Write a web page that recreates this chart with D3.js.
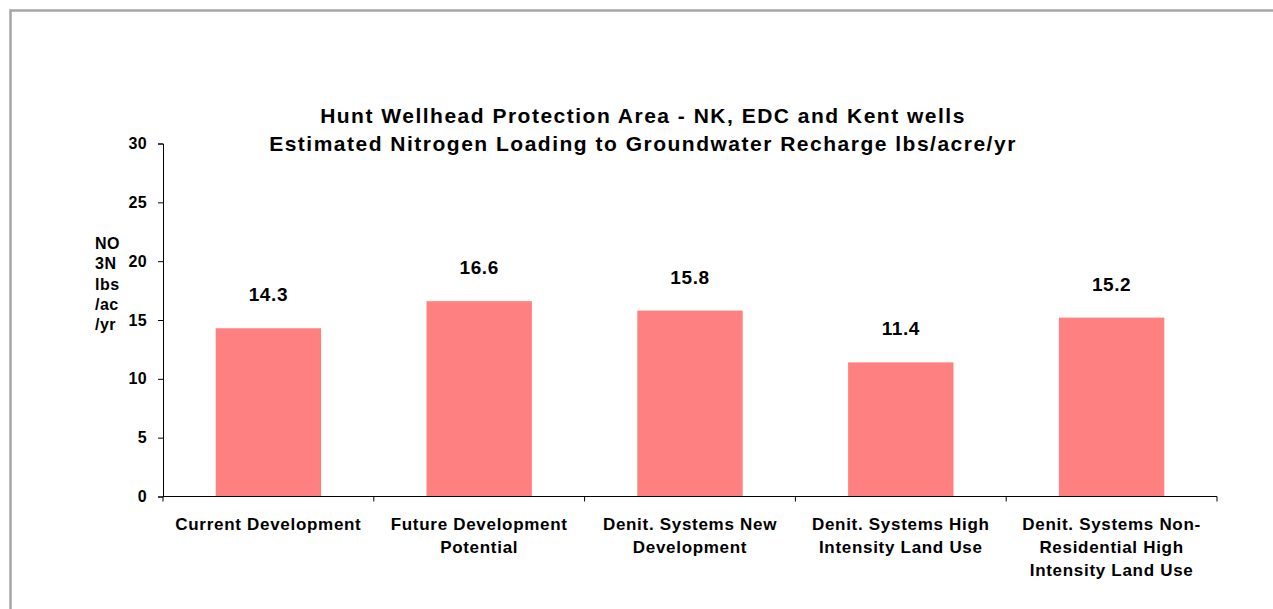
<!DOCTYPE html>
<html>
<head>
<meta charset="utf-8">
<script src="https://cdn.jsdelivr.net/npm/d3@7"></script>
<style>
  body { margin: 0; background: #fff; }
  svg { display: block; font-family: "Liberation Sans", Arial, sans-serif; }
</style>
</head>
<body>
<div id="chart"></div>
<script>
var width = 1273;
var height = 609;

var categories = [
  ["Current Development"],
  ["Future Development", "Potential"],
  ["Denit. Systems New", "Development"],
  ["Denit. Systems High", "Intensity Land Use"],
  ["Denit. Systems Non-", "Residential High", "Intensity Land Use"]
];
var values = [14.3, 16.6, 15.8, 11.4, 15.2];
var yTicks = [0, 5, 10, 15, 20, 25, 30];
var titleLines = [
  "Hunt Wellhead Protection Area - NK, EDC and Kent wells",
  "Estimated Nitrogen Loading to Groundwater Recharge lbs/acre/yr"
];
var yTitleLines = ["NO", "3N", "lbs", "/ac", "/yr"];

var plot = { left: 163, right: 1217, top: 143.5, bottom: 496.5 };

var svg = d3.select("#chart")
  .append("svg")
  .attr("width", width)
  .attr("height", height);

// outer frame
svg.append("rect")
  .attr("x", 10.5)
  .attr("y", 10.5)
  .attr("width", width + 20)
  .attr("height", height + 20)
  .attr("fill", "#fff")
  .attr("stroke", "#a6a6a6")
  .attr("stroke-width", 2.5);

var x = d3.scaleBand()
  .domain(d3.range(categories.length))
  .range([plot.left, plot.right])
  .paddingInner(0)
  .paddingOuter(0);

var y = d3.scaleLinear()
  .domain([0, 30])
  .range([plot.bottom, plot.top]);

// bars
svg.selectAll(".bar")
  .data(values)
  .join("rect")
  .attr("class", "bar")
  .attr("x", function (d, i) { return x(i) + x.bandwidth() * 0.25; })
  .attr("y", function (d) { return y(d); })
  .attr("width", x.bandwidth() * 0.5)
  .attr("height", function (d) { return y(0) - y(d); })
  .attr("fill", "#ff8080");

// value labels
svg.selectAll(".val")
  .data(values)
  .join("text")
  .attr("class", "val")
  .attr("x", function (d, i) { return x(i) + x.bandwidth() / 2; })
  .attr("y", function (d) { return y(d) - 27; })
  .attr("text-anchor", "middle")
  .attr("font-size", "19px")
  .attr("font-weight", "bold")
  .attr("letter-spacing", "0.6px")
  .attr("fill", "#000")
  .text(function (d) { return d.toFixed(1); });

// y axis
var yAxis = svg.append("g")
  .attr("transform", "translate(" + plot.left + ",0)")
  .call(d3.axisLeft(y).tickValues(yTicks).tickSize(5).tickPadding(11));
yAxis.select(".domain").attr("stroke", "#000");
yAxis.selectAll(".tick line").attr("stroke", "#000");
yAxis.selectAll(".tick text")
  .attr("font-family", "Liberation Sans, Arial, sans-serif")
  .attr("font-size", "16px")
  .attr("font-weight", "bold")
  .attr("letter-spacing", "0.4px")
  .attr("fill", "#000");

// x axis
var xAxis = svg.append("g")
  .attr("transform", "translate(0," + plot.bottom + ")");
xAxis.append("line")
  .attr("x1", plot.left)
  .attr("x2", plot.right)
  .attr("stroke", "#000");
xAxis.selectAll(".xtick")
  .data(d3.range(categories.length + 1))
  .join("line")
  .attr("class", "xtick")
  .attr("x1", function (i) { return plot.left + i * x.bandwidth(); })
  .attr("x2", function (i) { return plot.left + i * x.bandwidth(); })
  .attr("y1", 0)
  .attr("y2", 5)
  .attr("stroke", "#000");

var xLabels = xAxis.selectAll(".xlab")
  .data(categories)
  .join("text")
  .attr("class", "xlab")
  .attr("text-anchor", "middle")
  .attr("font-size", "17px")
  .attr("font-weight", "bold")
  .attr("letter-spacing", "0.7px")
  .attr("fill", "#000");
xLabels.selectAll("tspan")
  .data(function (d, i) { return d.map(function (s) { return { s: s, i: i }; }); })
  .join("tspan")
  .attr("x", function (d) { return x(d.i) + x.bandwidth() / 2; })
  .attr("y", function (d, j) { return 33.5 + j * 23; })
  .text(function (d) { return d.s; });

// y title
svg.append("text")
  .attr("font-size", "16px")
  .attr("font-weight", "bold")
  .attr("letter-spacing", "0.5px")
  .attr("fill", "#000")
  .selectAll("tspan")
  .data(yTitleLines)
  .join("tspan")
  .attr("x", 95)
  .attr("y", function (d, i) { return 249 + i * 20.3; })
  .text(function (d) { return d; });

// title
svg.append("text")
  .attr("text-anchor", "middle")
  .attr("font-size", "21px")
  .attr("font-weight", "bold")
  .attr("letter-spacing", "1.5px")
  .attr("fill", "#000")
  .selectAll("tspan")
  .data(titleLines)
  .join("tspan")
  .attr("x", 643)
  .attr("y", function (d, i) { return 123 + i * 28; })
  .text(function (d) { return d; });
</script>
</body>
</html>
